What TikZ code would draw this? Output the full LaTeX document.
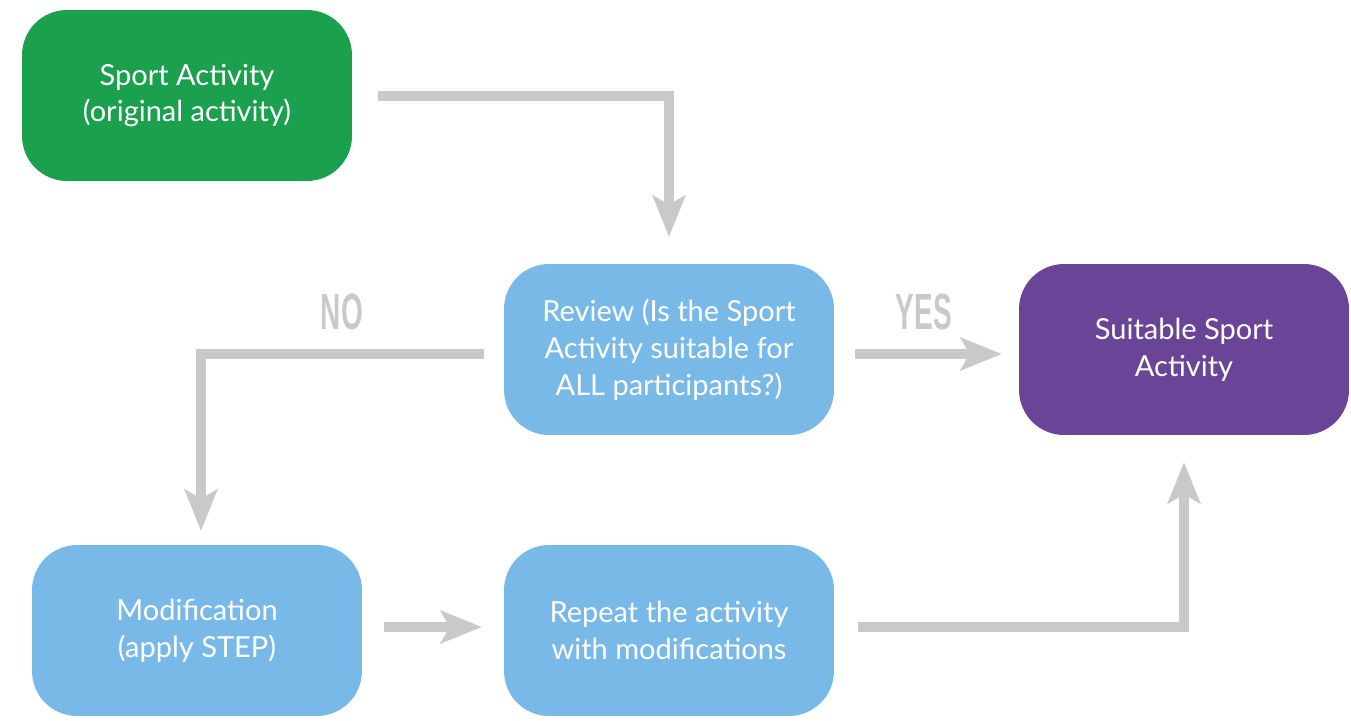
\documentclass[tikz,border=0pt]{standalone}
\usepackage{graphicx}
\usepackage{fontspec}
\setmainfont{Lato}
\newfontfamily\lblfont{Liberation Sans}
\usetikzlibrary{positioning, arrows.meta}
\definecolor{myGreen}{RGB}{27,160,77}
\definecolor{myBlue}{RGB}{120,185,231}
\definecolor{myPurple}{RGB}{106,69,151}
\definecolor{myGrey}{RGB}{200,201,203}

\begin{document}
\begin{tikzpicture}[
  x=0.02cm, y=-0.02cm,
  box/.style={rounded corners=0.9cm, minimum width=6.6cm, minimum height=3.42cm,
    align=center, text=white, font=\fontsize{16.5}{21}\selectfont},
  flow/.style={draw=myGrey, line width=0.2cm,
    -{Stealth[length=0.84cm, width=0.68cm, inset=0.2cm, line width=0pt]}},
  lbl/.style={text=myGrey, font=\lblfont\bfseries\fontsize{29}{29}\selectfont},
]
  \useasboundingbox (0,0) rectangle (1351,720);

  \node[box, fill=myGreen] (act) at (187, 95.5)
    {Sport Activity\\(original activity)};
  \node[box, fill=myBlue] (rev) at (669, 349.5)
    {Review (Is the Sport\\Activity suitable for\\ALL participants?)};
  \node[box, fill=myPurple] (suit) at (1184, 349.5)
    {Suitable Sport\\Activity};
  \node[box, fill=myBlue] (mod) at (197, 630.5)
    {Modification\\(apply STEP)};
  \node[box, fill=myBlue] (rep) at (669, 630.5)
    {Repeat the activity\\with modifications};

  \node[lbl] (no) at (342, 312) {\scalebox{0.55}[1]{NO}};
  \node[lbl] (yes) at (924, 312) {\scalebox{0.55}[1]{YES}};

  \draw[flow, shorten <=0.52cm, shorten >=0.54cm] (act.east) -| (rev.north);
  \draw[flow, shorten <=0.4cm, shorten >=0.28cm]
    ([yshift=-0.09cm]rev.west) -| ([xshift=0.08cm]mod.north);
  \draw[flow, shorten <=0.42cm, shorten >=0.34cm]
    ([yshift=-0.09cm]rev.east) -- ([yshift=-0.09cm]suit.west);
  \draw[flow, shorten <=0.44cm, shorten >=0.44cm]
    ([yshift=0.07cm]mod.east) -- ([yshift=0.07cm]rep.west);
  \draw[flow, shorten <=0.48cm, shorten >=0.54cm]
    ([yshift=0.07cm]rep.east) -| (suit.south);
\end{tikzpicture}
\end{document}
